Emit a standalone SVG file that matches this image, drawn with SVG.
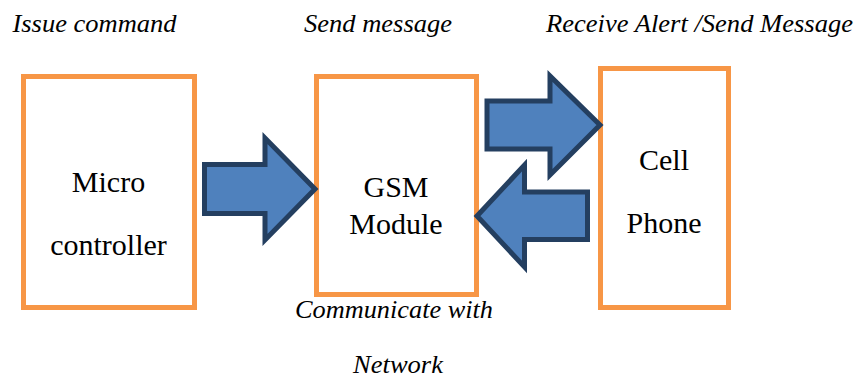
<svg xmlns="http://www.w3.org/2000/svg" width="856" height="378" viewBox="0 0 856 378">
<style>
.box{fill:#fff;stroke:#F79646;stroke-width:5}
.arr{fill:#4F81BD;stroke:#243F60;stroke-width:5;stroke-linejoin:miter}
.lbl{font-family:"Liberation Serif","Times New Roman",serif;font-size:30px;fill:#000;text-anchor:middle}
.cap{font-family:"Liberation Serif","Times New Roman",serif;font-size:25px;font-style:italic;fill:#000}
</style>
<rect width="856" height="378" fill="#fff"/>
<g id="captions">
<text class="cap" x="12.5" y="31.5" textLength="164" lengthAdjust="spacingAndGlyphs">Issue command</text>
<text class="cap" x="304" y="31.5" textLength="148" lengthAdjust="spacingAndGlyphs">Send message</text>
<text class="cap" x="546" y="31.5" textLength="307" lengthAdjust="spacingAndGlyphs">Receive Alert /Send Message</text>
<text class="cap" x="295" y="318" textLength="198" lengthAdjust="spacingAndGlyphs">Communicate with</text>
<text class="cap" x="353" y="373" textLength="90" lengthAdjust="spacingAndGlyphs">Network</text>
</g>
<g id="microcontroller">
<rect class="box" x="23.5" y="76.5" width="171" height="231"/>
<text class="lbl" x="108.5" y="192">Micro</text>
<text class="lbl" x="108.5" y="255">controller</text>
</g>
<g id="gsm">
<rect class="box" x="316.5" y="76.5" width="160" height="218"/>
<text class="lbl" x="396" y="197">GSM</text>
<text class="lbl" x="396" y="234">Module</text>
</g>
<g id="cellphone">
<rect class="box" x="600.5" y="68.5" width="128" height="239"/>
<text class="lbl" x="664" y="170">Cell</text>
<text class="lbl" x="664" y="233">Phone</text>
</g>
<g id="connectors">
<path class="arr" d="M204.5,164.5 H265 V138 L315,189 L265,240 V213.5 H204.5 Z"/>
<path class="arr" d="M487,101 H550 V76 L600,125 L550,175 V149 H487 Z"/>
<path class="arr" d="M587.5,192 H524.5 V165 L477,216 L524.5,267 V239.5 H587.5 Z"/>
</g>
</svg>
